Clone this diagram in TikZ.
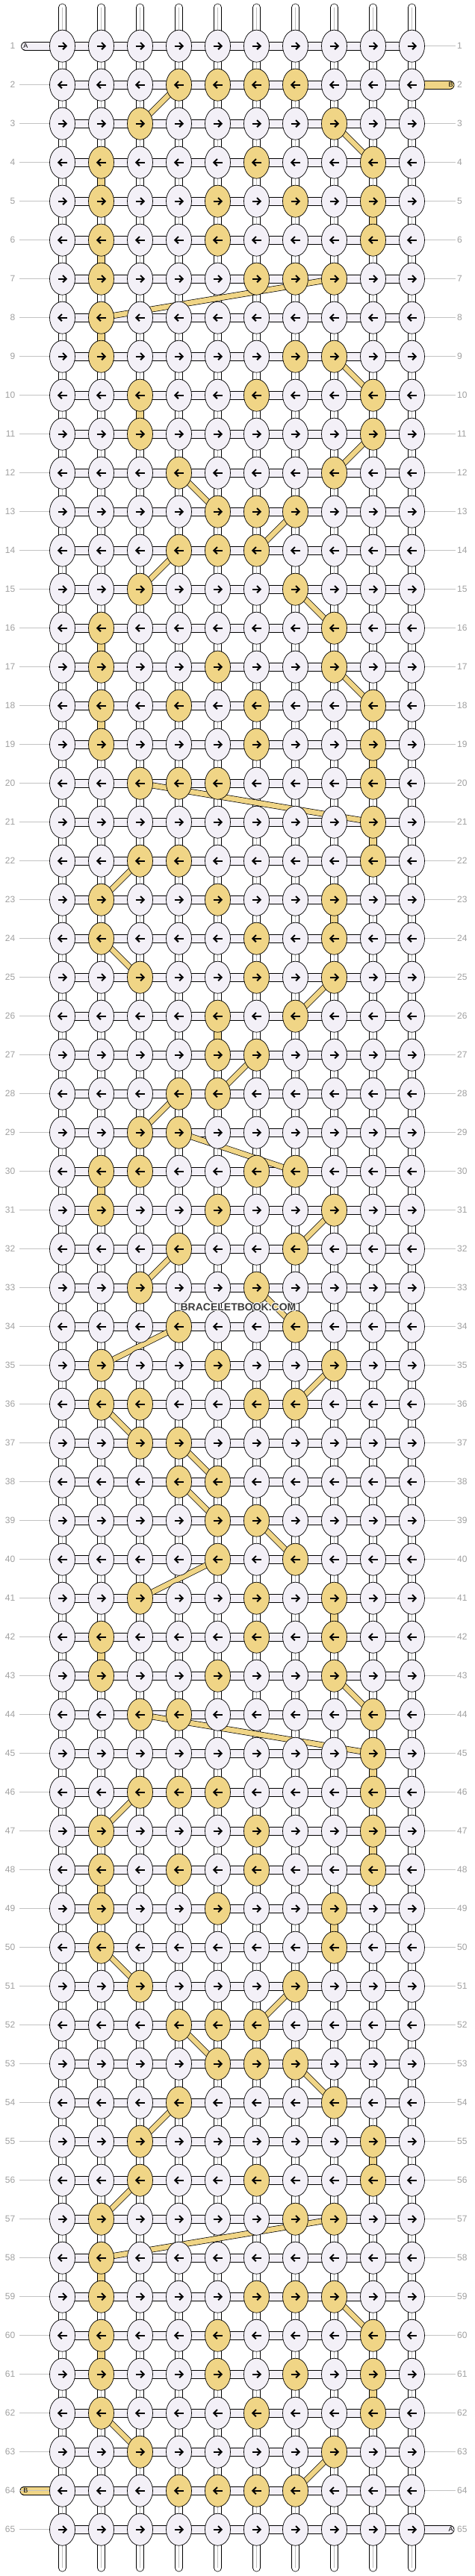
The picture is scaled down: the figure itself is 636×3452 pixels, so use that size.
\documentclass[tikz,border=0pt]{standalone}
\usepackage{fontspec}
\setmainfont{Liberation Sans}
\usetikzlibrary{shapes.geometric}
\pgfdeclarelayer{bg}\pgfdeclarelayer{mid}\pgfsetlayers{bg,mid,main}
\definecolor{kw}{RGB}{243,240,247}
\definecolor{ky}{RGB}{240,213,134}
\definecolor{lblc}{RGB}{160,160,160}
\definecolor{glc}{RGB}{195,195,195}
\definecolor{midg}{RGB}{190,190,190}
\definecolor{wmc}{RGB}{60,60,60}
\makeatletter
\newcommand\testin[2]{\edef\@tmpa{\noexpand\in@{,#1,}{,#2,}}\@tmpa}
\def\vylist{4/2,5/9,6/2,8/2,10/3,16/2,18/2,19/9,21/9,23/8,26/5,30/2,41/8,42/2,45/9,47/9,48/2,49/8,55/9,58/2,60/2,61/9}
\begin{document}
\begin{tikzpicture}[x=1pt,y=1pt,
 knot/.style={ellipse, draw=black, line width=0.7pt, minimum width=34pt, minimum height=43pt, inner sep=0pt},
 hconn/.style={draw=black, line width=0.7pt, double=kw, double distance=10.3pt},
 hconny/.style={hconn, double=ky},
 vconn/.style={draw=black, line width=0.7pt, double=white, double distance=9.3pt},
 vconny/.style={vconn, double=ky},
 vmid/.style={draw=midg, line width=0.5pt},
 diag/.style={draw=black, line width=0.7pt, double=ky, double distance=6.6pt},
 arw/.style={draw=black, line width=2pt, line cap=butt, line join=miter},
 lbl/.style={text=lblc, font=\fontsize{12}{12}\selectfont, inner sep=0pt},
 gl/.style={draw=glc, line width=0.8pt},
 pilltxt/.style={font=\fontsize{9}{9}\selectfont, inner sep=0pt, text=black},
 wm/.style={font=\bfseries\fontsize{14}{14}\selectfont, inner sep=0pt}
]
\useasboundingbox (0,0) rectangle (636,-3452);
\begin{pgfonlayer}{bg}
\fill[white] (0,0) rectangle (636,-3452);
\end{pgfonlayer}
% knots
\foreach \r/\ys in {1/0,2/{4,5,6,7},3/{3,8},4/{2,6,9},5/{2,5,7,9},6/{2,5,9},7/{2,6,7,8},8/{2},9/{2,7,8},10/{3,6,9},
 11/{3,9},12/{4,8},13/{5,6,7},14/{4,5,6},15/{3,7},16/{2,8},17/{2,5,8},18/{2,4,6,9},19/{2,6,9},20/{3,4,5,9},
 21/{9},22/{3,4,9},23/{2,5,8},24/{2,6,8},25/{3,6,8},26/{5,7},27/{5,6},28/{4,5},29/{3,4},30/{2,3,6,7},
 31/{2,5,8},32/{4,7},33/{3,6},34/{4,7},35/{2,5,8},36/{2,3,6,7},37/{3,4},38/{4,5},39/{5,6},40/{5,7},
 41/{3,6,8},42/{2,6,8},43/{2,5,8},44/{3,4,9},45/{9},46/{3,4,5,9},47/{2,6,9},48/{2,4,6,9},49/{2,5,8},50/{2,8},
 51/{3,7},52/{4,5,6},53/{5,6,7},54/{4,8},55/{3,9},56/{3,6,9},57/{2,7,8},58/{2},59/{2,6,7,8},60/{2,5,9},
 61/{2,5,7,9},62/{2,6,9},63/{3,8},64/{4,5,6,7},65/0} {
  \pgfmathsetmacro\yy{-61.7-52*(\r-1)}
  \foreach \c in {1,...,10} {
    \testin{\c}{\ys}
    \ifin@ \def\kf{ky}\else\def\kf{kw}\fi
    \node[knot, fill=\kf] (k-\r-\c) at ({83.5+52*(\c-1)}, \yy) {};
    \ifodd\r
      \draw[arw] ([xshift=-6pt]k-\r-\c.center) -- ([xshift=4.5pt]k-\r-\c.center);
      \draw[arw] ([shift={(0.6,4.6)}]k-\r-\c.center) -- ([xshift=5.2pt]k-\r-\c.center) -- ([shift={(0.6,-4.6)}]k-\r-\c.center);
    \else
      \draw[arw] ([xshift=6pt]k-\r-\c.center) -- ([xshift=-4.5pt]k-\r-\c.center);
      \draw[arw] ([shift={(-0.6,4.6)}]k-\r-\c.center) -- ([xshift=-5.2pt]k-\r-\c.center) -- ([shift={(-0.6,-4.6)}]k-\r-\c.center);
    \fi
  }
  % labels
  \node[lbl, anchor=east] (ln-\r) at (20.5,\yy) {\r};
  \node[lbl, anchor=west] (rn-\r) at (612,\yy) {\r};
  \coordinate (gl-\r) at (26,\yy);
  \coordinate (gr-\r) at (610,\yy);
}
% label lines
\foreach \r in {2,...,65} \draw[gl] (gl-\r) -- (k-\r-1.west);
\foreach \r in {1,3,4,...,64} \draw[gl] (k-\r-10.east) -- (gr-\r);
% connectors
\begin{pgfonlayer}{bg}
\foreach \r in {1,...,65} {
  \foreach \c [evaluate=\c as \cn using int(\c+1)] in {1,...,9}
    \draw[hconn] (k-\r-\c.center) -- (k-\r-\cn.center);
}
\foreach \r [evaluate=\r as \rn using int(\r+1)] in {1,...,64} {
  \foreach \c in {1,...,10} {
    \testin{\r/\c}{\vylist}
    \ifin@
      \draw[vconny] (k-\r-\c.center) -- (k-\rn-\c.center);
    \else
      \draw[vconn] (k-\r-\c.center) -- (k-\rn-\c.center);
      \draw[vmid] (k-\r-\c.center) -- (k-\rn-\c.center);
    \fi
  }
}
\foreach \c in {1,...,10} {
  \coordinate (t-\c) at ({83.5+52*(\c-1)}, -10);
  \coordinate (b-\c) at ({83.5+52*(\c-1)}, -3441);
  \draw[vconn, line cap=round] (t-\c) -- (k-1-\c.center);
  \draw[vmid] (t-\c) -- (k-1-\c.center);
  \draw[vconn, line cap=round] (b-\c) -- (k-65-\c.center);
  \draw[vmid] (b-\c) -- (k-65-\c.center);
}
% end pills
\coordinate (pA1) at (34,-61.7);
\coordinate (pB2) at (602.6,-113.7);
\coordinate (pB64) at (32.3,-3337.7);
\coordinate (pA65) at (602.6,-3389.7);
\draw[hconn, line cap=round] (pA1) -- (k-1-1.center);
\draw[hconny, line cap=round] (pB2) -- (k-2-10.center);
\draw[hconny, line cap=round] (pB64) -- (k-64-1.center);
\draw[hconn, line cap=round] (pA65) -- (k-65-10.center);
\end{pgfonlayer}
\node[pilltxt] (tA1) at (34.5,-61.7) {A};
\node[pilltxt] (tB2) at (603.5,-113.7) {B};
\node[pilltxt] (tB64) at (34.5,-3337.7) {B};
\node[pilltxt] (tA65) at (603.5,-3389.7) {A};
% diagonal links
\begin{pgfonlayer}{mid}
\foreach \ra/\ca/\rb/\cb in {2/4/3/3, 3/8/4/9, 7/8/8/2, 9/8/10/9, 11/9/12/8, 12/4/13/5, 13/7/14/6, 14/4/15/3,
 15/7/16/8, 17/8/18/9, 20/3/21/9, 22/3/23/2, 24/2/25/3, 25/8/26/7, 27/6/28/5, 28/4/29/3, 29/4/30/7,
 31/8/32/7, 32/4/33/3, 33/6/34/7, 34/4/35/2, 35/8/36/7, 36/2/37/3, 37/4/38/5, 38/4/39/5, 39/6/40/7,
 40/5/41/3, 43/8/44/9, 44/3/45/9, 46/3/47/2, 50/2/51/3, 51/7/52/6, 52/4/53/5, 53/7/54/8, 54/4/55/3,
 56/3/57/2, 57/8/58/2, 59/8/60/9, 62/2/63/3, 63/8/64/7}
  \draw[diag] (k-\ra-\ca.center) -- (k-\rb-\cb.center);
\end{pgfonlayer}
% watermark
\foreach \dx/\dy [count=\i] in {1/0,-1/0,0/1,0/-1,0.7/0.7,-0.7/0.7,0.7/-0.7,-0.7/-0.7}
  \node[wm, text=white] (wmh\i) at (319+\dx, -1751.7+\dy) {BRACELETBOOK.COM};
\node[wm, text=wmc] (wm) at (319,-1751.7) {BRACELETBOOK.COM};
\end{tikzpicture}
\end{document}
